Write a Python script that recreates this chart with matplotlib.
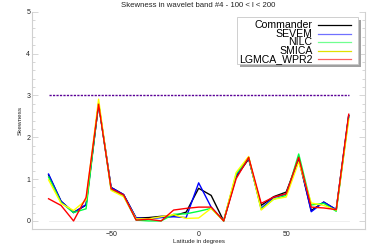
import matplotlib
matplotlib.use("Agg")
import matplotlib.pyplot as plt
from matplotlib.ticker import MultipleLocator
from matplotlib.patches import Rectangle
from matplotlib.lines import Line2D

plt.rcParams['font.family'] = ['Liberation Sans', 'DejaVu Sans']

title = "Skewness in wavelet band #4 - 100 < l < 200"
xlabel = "Latitude in degrees"
ylabel = "Skewness"

lat = [-85.71, -78.57, -71.43, -64.29, -57.14, -50.00, -42.86, -35.71, -28.57,
       -21.43, -14.29, -7.14, 0.00, 7.14, 14.29, 21.43, 28.57, 35.71, 42.86,
       50.00, 57.14, 64.29, 71.43, 78.57, 85.71]

series_names = ["Commander", "SEVEM", "NILC", "SMICA", "LGMCA_WPR2"]
series_colors = ["#000000", "#0000ff", "#00ff40", "#ffff00", "#ff0000"]
legend_colors = ["#000000", "#7070ff", "#70ff90", "#e0e000", "#ff6060"]

commander = [1.10, 0.47, 0.20, 0.38, 2.80, 0.80, 0.63, 0.07, 0.08, 0.11, 0.12, 0.21, 0.78, 0.61, 0.00,
             1.06, 1.48, 0.37, 0.58, 0.69, 1.47, 0.25, 0.45, 0.27, 2.52]
sevem = [1.12, 0.47, 0.20, 0.39, 2.80, 0.80, 0.63, 0.07, 0.05, 0.08, 0.10, 0.08, 0.91, 0.33, 0.00,
         1.09, 1.50, 0.30, 0.56, 0.64, 1.52, 0.22, 0.45, 0.27, 2.52]
nilc = [1.05, 0.44, 0.20, 0.29, 2.82, 0.75, 0.60, 0.02, 0.00, 0.00, 0.16, 0.17, 0.23, 0.30, 0.00,
        1.12, 1.52, 0.28, 0.52, 0.61, 1.60, 0.38, 0.42, 0.23, 2.48]
smica = [0.98, 0.42, 0.25, 0.50, 2.91, 0.73, 0.58, 0.05, 0.05, 0.10, 0.15, 0.06, 0.07, 0.30, 0.00,
         1.16, 1.54, 0.26, 0.52, 0.57, 1.41, 0.43, 0.37, 0.26, 2.42]
lgmca = [0.53, 0.37, 0.00, 0.56, 2.79, 0.77, 0.62, 0.02, 0.04, 0.00, 0.26, 0.30, 0.33, 0.33, 0.00,
         1.01, 1.52, 0.42, 0.57, 0.65, 1.52, 0.33, 0.31, 0.27, 2.55]

threshold = 3.0

xticks = [-50, 0, 50]
yticks = [0, 1, 2, 3, 4, 5]

W, H = 375, 250
fig = plt.figure(figsize=(W / 100, H / 100), dpi=100)
ax = fig.add_axes([32.3 / W, 1 - 229.3 / H, (365 - 32.3) / W, (229.3 - 11.7) / H])
ax.set_xlim(-95, 95)
ax.set_ylim(-0.2, 5)

grey = "#d0d0d0"
ax.spines["top"].set_visible(False)
for s in ["left", "right", "bottom"]:
    ax.spines[s].set_color(grey)
    ax.spines[s].set_linewidth(0.8)

ax.set_xticks(xticks)
ax.set_yticks(yticks)
ax.yaxis.set_minor_locator(MultipleLocator(0.2))
ax.tick_params(axis='y', which='both', direction='in', left=True, right=True,
               color=grey, labelsize=5, pad=1.5, labelcolor="#222222")
ax.tick_params(axis='y', which='major', length=4.5, width=0.6)
ax.tick_params(axis='y', which='minor', length=2.2, width=0.6)
ax.tick_params(axis='x', which='both', direction='in', color=grey, length=0,
               labelsize=5, pad=1.2, labelcolor="#222222")

# zero reference line and threshold
ax.plot([lat[0], lat[-1]], [0, 0], color="#ececec", lw=0.6, zorder=1)
ax.plot([lat[0], lat[-1]], [threshold, threshold], color="#5a0096", lw=1.0,
        linestyle=(0, (1.6, 0.9)), zorder=2)

all_series = [commander, sevem, nilc, smica, lgmca]
for name, col, vals in zip(series_names, series_colors, all_series):
    ax.plot(lat, vals, color=col, lw=1.0, label=name, zorder=3)

fig.text((32.3 + 365) / 2 / W, 1 - 5.5 / H, title, ha='center', va='center',
         fontsize=5.6, color="#222222")
fig.text((32.3 + 365) / 2 / W, 1 - 242 / H, xlabel, ha='center', va='center',
         fontsize=4.4, color="#222222")
fig.text(20 / W, 1 - 120 / H, ylabel, ha='center', va='center', rotation=90,
         fontsize=4.6, color="#222222")

# legend drawn in figure pixel coordinates (IDL-style box with shadow)
def fx(x):
    return x / W

def fy(y):
    return 1 - y / H

bx0, by0, bx1, by1 = 237, 17, 358, 64
fig.patches.append(Rectangle((fx(bx0 + 2.5), fy(by1 + 2.5)), (bx1 - bx0) / W, (by1 - by0) / H,
                             transform=fig.transFigure, facecolor="#a0a0a0", edgecolor="none",
                             zorder=5))
fig.patches.append(Rectangle((fx(bx0), fy(by1)), (bx1 - bx0) / W, (by1 - by0) / H,
                             transform=fig.transFigure, facecolor="white", edgecolor="#c8c8c8",
                             lw=0.6, zorder=6))
ys = [25.3, 33.8, 42.3, 50.8, 59.3]
for name, col, yy in zip(series_names, legend_colors, ys):
    fig.text(fx(312.5), fy(yy), name, ha='right', va='center', fontsize=7.6,
             color="black", zorder=7)
    fig.lines.append(Line2D([fx(317.5), fx(351)], [fy(yy), fy(yy)], transform=fig.transFigure,
                            color=col, lw=0.9, zorder=8))

fig.savefig("out.png", dpi=100)
